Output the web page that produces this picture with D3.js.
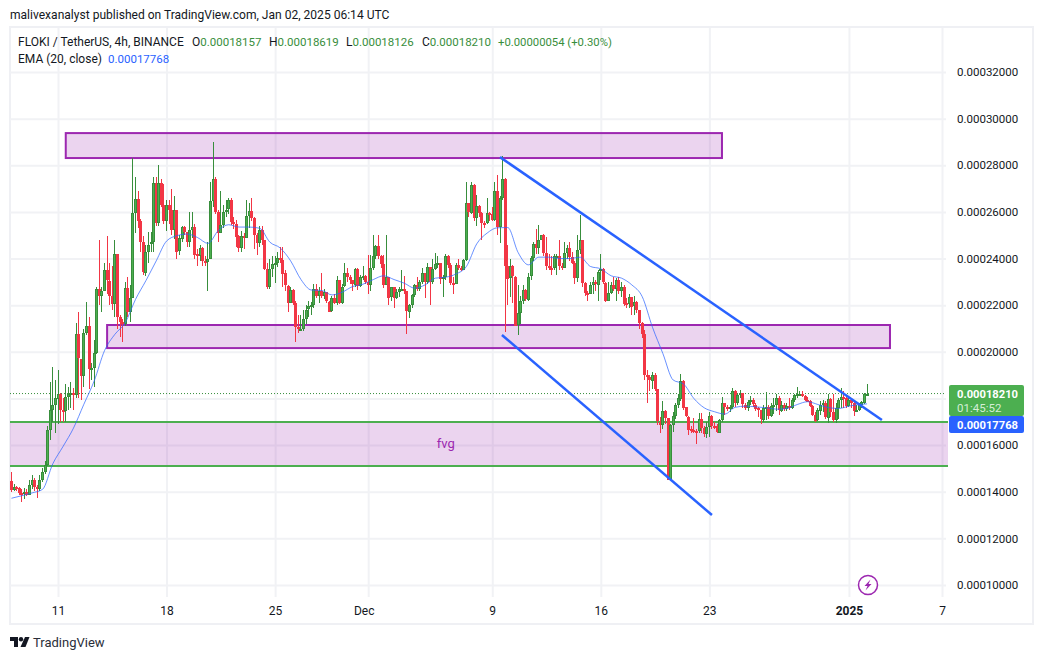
<!DOCTYPE html>
<html>
<head>
<meta charset="utf-8">
<script src="https://cdn.jsdelivr.net/npm/d3@7"></script>
<style>
  html, body { margin: 0; padding: 0; background: #fff; }
  svg { display: block; }
  text { font-family: Roboto, "Noto Sans", sans-serif; fill: #131722; }
</style>
</head>
<body>
<svg width="1044" height="660"></svg>
<script>
// all prices are in millionths of a dollar (182.1 = 0.00018210)
const closes = [
  140.5,142,141.5,139.5,139.2,140,138.6,143,145,142,
  141,145,148.5,151.5,166.5,175,177,180,182,175,
  174.5,180.7,182,182.5,181.5,207.5,197,189.5,208,211,
  192.5,193,199.5,227,224,226,235,230.5,224,220.5,
  242,215,213,212,227.5,217,223,259.5,265.5,256,
  247,234,243,246,247,272.5,255.5,272.5,263,256,
  263,261,252.5,261,243,248.7,253.7,251.5,247.3,252.3,
  253.7,241.9,241,244.4,239,238.5,240,264.7,274,260,
  251,254.4,260,261,265,255.5,255,249.5,244.5,249.5,
  249,258.3,260.4,257.3,250,246.6,252.3,248,235.4,227.6,
  235.4,237.6,238,240.1,239.5,233.7,228.4,221,226.6,221,
  210.5,210,210,214.1,218,219.5,220,226.9,224,226,
  223.7,225.5,221.5,217.3,223,221,230.9,221,228,233.7,
  232,230.6,228.7,235.4,228,232,232.5,230,228.7,235.9,
  241,245.4,241,237.7,228.7,232.3,223.3,227.6,223,225.7,
  226.8,226.9,225.9,217.3,220.1,224.4,228.7,227,230,233.7,
  230,236.3,230,235.4,237.7,238,231.1,232,241.1,237.3,
  229.7,229,237.3,236,235.2,239.4,263.7,259.7,271.6,257.3,
  262.6,259.5,255.4,255,259.4,259,256.6,269,253.4,265.9,
  274.1,237,231.6,236.6,232.3,211.3,216.6,221.9,226.6,222.6,
  232.3,240.1,246.3,244.4,248,250,242.3,236.6,236,235.8,
  240.9,241,236.6,236,242.3,244.4,240.6,238,231.6,243.7,
  248,229.4,225.1,224.7,228.7,230,229,234.4,235.4,229.7,
  222,225.4,228.7,226.9,230.9,226.3,228,220.9,220.6,223.7,
  219.6,221.4,218,212.3,207.6,190,189,187.6,190,183.9,
  170,168.6,174.6,171.5,145,168.6,172.5,177.2,180,187.6,
  176.2,172.2,166.7,166.5,166.1,165.7,171,167.2,164.7,167.9,
  172.6,168.2,168,165.3,170.7,177.9,176.2,175.8,176.2,183.2,
  177.9,181.5,182.2,177.4,176.1,178.6,179.3,177.4,175.7,175,
  171,176.1,176.5,172.6,176.9,177,180,175,177.4,175.7,
  176.8,176,179.3,181.4,181.7,182.1,181.2,179.3,178.9,176.9,
  173.1,170.7,175,177.4,177.9,171.7,179.7,174.3,170.7,175.7,
  179.3,180.7,180.3,176.9,179.3,178,174.6,175,177.1,178.3,
  182,182.1
]
const highs = [
  148.6,143.5,142.5,142,141,141.5,141,145,147,146,
  143,147,150,153,168,187,193.5,188,192,182.5,
  180,186,185,187,184.5,212.5,217,197,210,221.5,
  215,195,205,228,247.8,228,238,249.5,238,237,
  248,242,216,214,230,232,228.5,283,275,269,
  257,249.5,246,251.5,251.5,275,275,280,274,272,
  265,265,270,267,261,250,254,254,250,260,
  260,255,244,246,245,241,247,273,290,275,
  261,269,263,265,266,266,258,256.5,250,252,
  251,265,264,266,258,251,254,254,248,238,
  240,241,241,243,245,245,235,228.5,228,227,
  222,216,216,218,220,222,221.5,229,229,228,
  233.7,227,225,222,224,225,232.6,231,229,238,
  235.9,233,231,236,236,233,237,233,241.6,241.6,
  250,246,250,241.6,241.6,249.9,232,228,227.8,227,
  228,235,232.7,226,220.5,225,229,232,231,236.1,
  234,238,236.5,240,242.3,241,238,233,242,241.5,
  238,232,238,240,237,240,273,264,272.7,272,
  267.3,263,260,256,265.9,260,262,273,276,267,
  284,274.5,245.9,240,237.3,232.6,228.7,224,228.6,227,
  234,241,247.3,252.6,254.4,250.2,250.5,249.4,242,241,
  242,242,248,238,246.9,246,246.9,243,239,250,
  258.7,248,230,226,230,232,231,235,242,235.9,
  230,230,230,232,231.5,232,230,228.5,223,225,
  223.7,224,222,218,213,209.5,192,190,191.5,191,
  184,172,178.9,175,171.5,169,174,178,182,190.5,
  187.9,176.5,172.5,168,171.5,167,173.6,173.6,168,170,
  174,173,170,169,171,180.5,178,177,177,184.6,
  183.5,182.5,183.5,182.5,178,179.5,181,180,178,176.5,
  175,177,182.6,177,178,180,182,181,179,178,
  178,180,180,182,184.7,183,183,181.5,180.5,179.5,
  177,174,176,179,179.5,179,182,180,182,178,
  180,184.3,183,181.5,180,180,179,177,178,179,
  182.3,186.2
]
const lows = [
  140,140.5,140.5,138.5,135.5,137,138,138.5,141,140.5,
  137.5,140.5,144,147.5,151,162.3,170,165,169,170,
  170,170,175,176,175,180,180,179.5,185,207,
  184,188,185,199,220,217,226,225,220,218,
  215,210,206.5,204,211,215,213,223,251,253,
  243,233,232.5,238,243,243,254,254,262,255,
  252,255,250,248.5,240,241.5,247,250,245,245,
  249,240,237,239,237,237,226,240,262,259,
  247,251,253,258,259,254.5,252.5,245,243,243,
  244,249,253,256,244,241.5,245,246,235,227,
  227,232,229.5,236.5,238,228,226,217,221,220,
  204,208,209,209,212,215,216,219,223,221,
  223,222.5,221,216.9,217,220.5,220,220.5,220.5,228,
  230,229,226,228,226.5,228,231,229,225,226,
  235,240,240,236,227.5,228.5,220,222,219,222.8,
  223.5,226,225,207.6,214.7,219,223.5,226,226,229,
  223,229,220.2,229,235,236,229,223.4,231,236,
  228.7,225,229,235,234.5,235,239,258,259,256,
  254,258,248,253,255,256,256,256,250,246.5,
  265,208.7,220,223.4,221,211,207.3,212,220.5,222,
  222,231,239,242,242,248,241,235,235,233,
  235,233,235,235,236,240,239,237.5,229,230,
  242,228,224,222,224.7,225,226,222,231,229,
  221.5,222,225,226,222,225,223.5,219.6,219,218.9,
  216,216,216.5,210,206,188,178,183,184,183,
  168.6,165,167,169,145,145,165.6,171,176,179,
  175,172,164.3,165,165,160.5,165,165,163.5,163,
  163.3,167,167,165,165,170,173,174.5,174,175.5,
  176.5,177,180,176,175,174.5,177,176.5,174.5,172,
  168.9,170,170.7,171,172,173.5,174.5,173,174,174.5,
  174.5,175,175.5,178.5,180,181,180.5,179,178.5,176.5,
  172.5,170,170.5,173,174,171,169.5,172,170,169.5,
  171,176,176,176,176.5,176,172.6,174,174.5,176,
  177.5,181.26
]
const firstOpen = 144.5

// EMA, one reading per 4 candles, last one on the last candle
const emaValues = [
  137.2,138.3,139.5,141,152,159.5,167.3,177.5,187.5,200.5,
  207.5,212.5,222.5,230.5,239,247.5,249.8,250.5,249,246.5,
  252,254.5,253.5,253.5,253,247,244.5,239,231,226.5,
  226.3,224.4,225.6,228,229,231,232.6,231,229.4,227.3,
  228.7,231.6,232,233.4,236.6,246.3,250.9,253.2,253.3,242.6,
  237.3,240.6,240.6,240,240,240.6,236.6,235.6,232.6,231.6,
  228.7,223.7,210.5,199.3,187.9,186.2,180,176,174.3,173.3,
  176.2,176.7,176.4,176,175.4,175.7,177.4,178.6,177.4,176.1,
  175.7,176.7,177.4,177.68
]

const priceGrid = [100, 120, 140, 160, 180, 200, 220, 240, 260, 280, 300, 320]
const priceLabels = [100, 120, 140, 160, 200, 220, 240, 260, 280, 300, 320]
const timeTicks = ["2024-11-11", "2024-11-18", "2024-11-25", "2024-12-01", "2024-12-09", "2024-12-16", "2024-12-23", "2025-01-01", "2025-01-07"]
const timeNames = ["11", "18", "25", "Dec", "9", "16", "23", "2025", "7"]

const lastPrice = 182.1
const lastEma = 177.68

// drawings on the chart: [start, end, top, bottom]
const purpleZones = [
  ["2024-11-11T12:00Z", "2024-12-23T19:30Z", 293.8, 283.1],
  ["2024-11-14T04:00Z", "2025-01-03T15:30Z", 211.5, 201.6],
]
const fvgZone = [169.9, 151]
const trendLines = [
  ["2024-12-09T12:00Z", 283.5, "2025-01-03T03:00Z", 170.8],
  ["2024-12-09T15:00Z", 207.2, "2024-12-23T04:00Z", 130],
]

const upColor = "#388e3c"
const upFill = "#4caf50"
const downColor = "#f23645"
const purple = "#9c27b0"
const blue = "#2962ff"
const green = "#4caf50"
const gridColor = "#f1f2f5"

const svg = d3.select("svg")

const paneLeft = 10, paneRight = 946, paneTop = 28, paneBottom = 597

const x = d3.scaleUtc().domain([new Date("2024-11-11"), new Date("2025-01-07")]).range([58, 942])
const y = d3.scaleLinear().domain([100, 320]).range([585, 72])
const fmt = (v) => (v / 1e6).toFixed(8)

const fourHours = 4 * 3600 * 1000
const start = Date.UTC(2024, 10, 8)
const candles = closes.map((c, i) => ({
  date: new Date(start + i * fourHours),
  open: i ? closes[i - 1] : firstOpen,
  high: highs[i],
  low: lows[i],
  close: c,
}))
// the last candle's open is in the legend
candles[candles.length - 1].open = 181.57

// outer frame
svg.append("rect")
  .attr("x", 10).attr("y", 27).attr("width", 1023).attr("height", 597)
  .attr("fill", "none").attr("stroke", "#eff0f4").attr("stroke-width", 2)

// grid, both ways
const gridY = svg.append("g")
  .attr("transform", `translate(${paneLeft},0)`)
  .call(d3.axisRight(y).tickValues(priceGrid).tickSize(paneRight - paneLeft).tickFormat(""))
gridY.select(".domain").remove()
gridY.selectAll("line").attr("stroke", gridColor).attr("stroke-width", 2)

const gridX = svg.append("g")
  .attr("transform", `translate(0,${paneBottom})`)
  .call(d3.axisTop(x).tickValues(timeTicks.map((d) => new Date(d))).tickSize(paneBottom - paneTop).tickFormat(""))
gridX.select(".domain").remove()
gridX.selectAll("line").attr("stroke", gridColor).attr("stroke-width", 2)

// fvg band under the candles
svg.append("rect")
  .attr("x", paneLeft).attr("width", paneRight + 2 - paneLeft)
  .attr("y", y(fvgZone[0])).attr("height", y(fvgZone[1]) - y(fvgZone[0]))
  .attr("fill", purple).attr("fill-opacity", 0.2)
svg.selectAll(".fvg-edge").data(fvgZone).join("line")
  .attr("x1", paneLeft).attr("x2", paneRight + 2)
  .attr("y1", (d) => y(d)).attr("y2", (d) => y(d))
  .attr("stroke", green).attr("stroke-width", 2)
svg.append("text")
  .attr("x", x(new Date("2024-12-06T00:00Z"))).attr("y", y(160.6) + 4.5)
  .attr("text-anchor", "middle").attr("font-size", 13)
  .style("fill", purple).text("fvg")

// purple zones
svg.selectAll(".zone").data(purpleZones).join("rect")
  .attr("x", (d) => x(new Date(d[0])))
  .attr("width", (d) => x(new Date(d[1])) - x(new Date(d[0])))
  .attr("y", (d) => y(d[2]))
  .attr("height", (d) => y(d[3]) - y(d[2]))
  .attr("fill", purple).attr("fill-opacity", 0.2)
  .attr("stroke", purple).attr("stroke-width", 2)

// last price line
svg.append("line")
  .attr("x1", paneLeft).attr("x2", paneRight)
  .attr("y1", y(lastPrice)).attr("y2", y(lastPrice))
  .attr("stroke", upColor).attr("stroke-dasharray", "1 2")

// candles, snapped to whole pixels so they stay crisp
const g = svg.append("g").attr("shape-rendering", "crispEdges")
g.selectAll(".wick").data(candles).join("line")
  .attr("x1", (d) => Math.floor(x(d.date)) + 0.5).attr("x2", (d) => Math.floor(x(d.date)) + 0.5)
  .attr("y1", (d) => y(d.high)).attr("y2", (d) => y(d.low))
  .attr("stroke", (d) => d.close >= d.open ? upColor : downColor)
  .attr("stroke-width", 1)
g.selectAll(".body").data(candles).join("rect")
  .attr("x", (d) => Math.floor(x(d.date)) - 0.5)
  .attr("width", 2)
  .attr("y", (d) => Math.round(y(Math.max(d.open, d.close))) + 0.5)
  .attr("height", (d) => Math.max(1, Math.round(Math.abs(y(d.open) - y(d.close))) - 1))
  .attr("fill", (d) => d.close >= d.open ? upFill : downColor)
  .attr("stroke", (d) => d.close >= d.open ? upColor : downColor)
  .attr("stroke-width", 1)

// EMA
const line = d3.line()
  .x((d) => x(d.date)).y((d) => y(d.value))
  .curve(d3.curveMonotoneX)
const emaPoints = emaValues.map((v, k) => ({
  date: candles[Math.min(k * 4, candles.length - 1)].date,
  value: v,
}))
svg.append("path").datum(emaPoints)
  .attr("d", line).attr("fill", "none")
  .attr("stroke", blue).attr("stroke-opacity", 0.7).attr("stroke-width", 1)

// trend lines
svg.selectAll(".trend").data(trendLines).join("line")
  .attr("x1", (d) => x(new Date(d[0]))).attr("y1", (d) => y(d[1]))
  .attr("x2", (d) => x(new Date(d[2]))).attr("y2", (d) => y(d[3]))
  .attr("stroke", blue).attr("stroke-width", 2.5)

// price axis labels
const priceAxis = svg.append("g")
  .attr("transform", `translate(${paneRight},0)`)
  .call(d3.axisRight(y).tickValues(priceLabels).tickSize(0).tickPadding(11).tickFormat(fmt))
priceAxis.select(".domain").remove()
priceAxis.selectAll("text").attr("font-size", 11.5).style("font-family", "Roboto").style("fill", "#131722")

// time axis labels
const timeAxis = svg.append("g")
  .attr("transform", `translate(0,${paneBottom})`)
  .call(d3.axisBottom(x).tickValues(timeTicks.map((d) => new Date(d))).tickSize(0).tickPadding(9)
    .tickFormat((d, i) => timeNames[i]))
timeAxis.select(".domain").remove()
timeAxis.selectAll("text").attr("font-size", 12).style("font-family", "Roboto").style("fill", "#131722")
  .attr("dx", (d, i) => timeNames[i] === "Dec" ? -4.5 : 0)
  .style("font-weight", (d, i) => timeNames[i] === "2025" ? 700 : 400)

// price tags on the axis
const tagX = 949, tagW = 75
svg.append("rect").attr("x", tagX).attr("y", 385).attr("width", tagW).attr("height", 31)
  .attr("rx", 2).attr("fill", green)
svg.append("rect").attr("x", tagX).attr("y", 416).attr("width", tagW).attr("height", 17)
  .attr("rx", 2).attr("fill", blue)
svg.append("text").attr("x", 957).attr("y", 398).attr("font-size", 11.2).attr("font-weight", 700)
  .style("fill", "#fff").text(fmt(lastPrice))
svg.append("text").attr("x", 957).attr("y", 412).attr("font-size", 11.5)
  .style("fill", "#d5eed6").text("01:45:52")
svg.append("text").attr("x", 957).attr("y", 429).attr("font-size", 11.2).attr("font-weight", 700)
  .style("fill", "#fff").text(fmt(lastEma))

// header
svg.append("text").attr("x", 10).attr("y", 19).attr("font-size", 12.06)
  .text("malivexanalyst published on TradingView.com, Jan 02, 2025 06:14 UTC")

const legend = svg.append("text").attr("x", 18).attr("y", 46).attr("font-size", 12)
legend.append("tspan").text("FLOKI / TetherUS, 4h, BINANCE")
const ohlc = [["O", "0.00018157", 192], ["H", "0.00018619", 269], ["L", "0.00018126", 346], ["C", "0.00018210", 422]]
ohlc.forEach((d) => {
  legend.append("tspan").attr("x", d[2]).text(d[0])
  legend.append("tspan").style("fill", upColor).attr("font-size", 11.5).text(d[1])
})
legend.append("tspan").attr("x", 498).style("fill", upColor).attr("font-size", 11.3).text("+0.00000054 (+0.30%)")

const emaLegend = svg.append("text").attr("x", 18).attr("y", 63).attr("font-size", 12)
emaLegend.append("tspan").text("EMA (20, close)")
emaLegend.append("tspan").attr("x", 108).style("fill", blue).attr("font-size", 11.5).text(fmt(lastEma))

// lightning badge
const badge = svg.append("g").attr("transform", "translate(868,585)")
badge.append("circle").attr("r", 9.5).attr("fill", "#fff").attr("stroke", purple).attr("stroke-width", 1.5)
badge.append("path").attr("d", "M2.5,-5.5 L-3.5,1 L-0.5,1 L-2.5,5.5 L3.5,-1 L0.5,-1 Z").attr("fill", purple)

// TradingView footer logo
const logo = svg.append("g").attr("fill", "#131722")
logo.append("path").attr("d", "M10,637 H18 V647 H14 V641 H10 Z")
logo.append("circle").attr("cx", 21).attr("cy", 639.3).attr("r", 2.2)
logo.append("path").attr("d", "M25,637 H29.5 L25.5,647 H20.5 Z")
svg.append("text").attr("x", 33).attr("y", 647).attr("font-size", 13).style("fill", "#2a2e39").text("TradingView")
</script>
</body>
</html>
